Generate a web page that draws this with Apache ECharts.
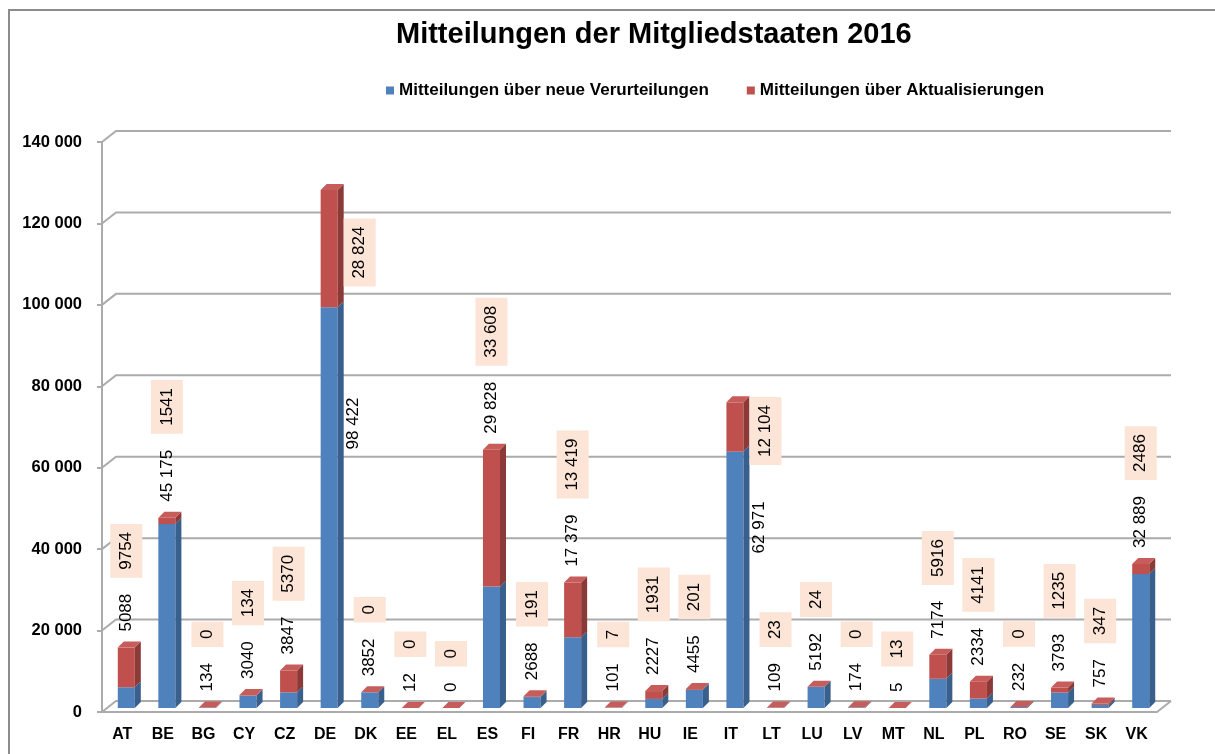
<!DOCTYPE html>
<html>
<head>
<meta charset="utf-8">
<script src="https://cdn.jsdelivr.net/npm/echarts@6/dist/echarts.min.js"></script>
<style>
html, body { margin: 0; padding: 0; background: #fff; }
#chart { width: 1215px; height: 754px; }
</style>
</head>
<body>
<div id="chart"></div>
<script>
// Mitteilungen der Mitgliedstaaten 2016
const countries = ['AT', 'BE', 'BG', 'CY', 'CZ', 'DE', 'DK', 'EE', 'EL', 'ES', 'FI', 'FR', 'HR',
  'HU', 'IE', 'IT', 'LT', 'LU', 'LV', 'MT', 'NL', 'PL', 'RO', 'SE', 'SK', 'VK'];
const newConvictions = [5088, 45175, 134, 3040, 3847, 98422, 3852, 12, 0, 29828, 2688, 17379, 101,
  2227, 4455, 62971, 109, 5192, 174, 5, 7174, 2334, 232, 3793, 757, 32889];
const updates = [9754, 1541, 0, 134, 5370, 28824, 0, 0, 0, 33608, 191, 13419, 7,
  1931, 201, 12104, 23, 24, 0, 13, 5916, 4141, 0, 1235, 347, 2486];
const yTicks = [0, 20000, 40000, 60000, 80000, 100000, 120000, 140000];

const FONT = '"Liberation Sans", Arial, sans-serif';
const LABEL_SIZE = 17;
const WALL_DEPTH = [14, -11];  // back wall offset from front plane
const BAR_SHIFT = [4, -4];     // bars sit a little behind the front plane
const BAR_DEPTH = [6, -6];
const BAR_RATIO = 0.42;
const LINE_COLOR = '#ababab';

const blue = { front: '#4f81bd', side: '#395f8d', top: '#6b93c6' };
const red = { front: '#c0504d', side: '#8c3a38', top: '#c65d5a' };

function fmt(v) {
  return v >= 10000 ? String(v).replace(/\B(?=(\d{3})+(?!\d))/g, ' ') : String(v);
}

const measureCtx = document.createElement('canvas').getContext('2d');
function textLen(s) {
  measureCtx.font = LABEL_SIZE + 'px ' + FONT;
  return measureCtx.measureText(s).width;
}

// back wall grid lines, left wall diagonals, floor edge
function wallItem(params, api) {
  const v = api.value(1);
  const cs = params.coordSys;
  const y = api.coord([0, v])[1];
  const l = cs.x;
  const r = cs.x + cs.width;
  const [dx, dy] = WALL_DEPTH;
  const children = [{
    type: 'polyline',
    shape: { points: [[l, y], [l + dx, y + dy], [r + dx, y + dy]] },
    style: { stroke: LINE_COLOR, lineWidth: 2, fill: null }
  }];
  if (v === 0) {
    children.push({
      type: 'line',
      shape: { x1: r, y1: y, x2: r + dx, y2: y + dy },
      style: { stroke: LINE_COLOR, lineWidth: 2 }
    });
  }
  return { type: 'group', children };
}

function barItem(colors, withTop) {
  return function (params, api) {
    const i = api.value(0);
    const base = api.value(1);
    const val = api.value(2);
    const p0 = api.coord([i, base]);
    const p1 = api.coord([i, base + val]);
    const w = api.size([1, 0])[0] * BAR_RATIO;
    const x0 = p0[0] + BAR_SHIFT[0] - w / 2;
    const x1 = x0 + w;
    const yb = p0[1] + BAR_SHIFT[1];
    const yt = p1[1] + BAR_SHIFT[1];
    const [dx, dy] = BAR_DEPTH;
    const children = [
      {
        type: 'rect',
        shape: { x: x0, y: yt, width: w, height: yb - yt },
        style: { fill: colors.front }
      },
      {
        type: 'polygon',
        shape: { points: [[x1, yb], [x1, yt], [x1 + dx, yt + dy], [x1 + dx, yb + dy]] },
        style: { fill: colors.side }
      }
    ];
    if (withTop) {
      children.push({
        type: 'polygon',
        shape: { points: [[x0, yt], [x1, yt], [x1 + dx, yt + dy], [x0 + dx, yt + dy]] },
        style: { fill: colors.top }
      });
    }
    return { type: 'group', children };
  };
}

function labelItem(params, api) {
  const i = api.value(0);
  const b = api.value(1);
  const r = api.value(2);
  const total = b + r;
  const w = api.size([1, 0])[0] * BAR_RATIO;
  const cx = api.coord([i, 0])[0] + BAR_SHIFT[0];
  const y0 = api.coord([i, 0])[1];
  const yB = api.coord([i, b])[1];
  const yTop = api.coord([i, total])[1];
  const bt = fmt(b);
  const rt = fmt(r);
  const bl = textLen(bt);
  const rl = textLen(rt);
  let bPos, rPos;
  if (total > 70000) {
    // tall bars: labels beside the bar
    const sx = cx + w / 2 + 16;
    bPos = [sx, yB + (y0 - yB) * 0.28];
    rPos = [sx + 6, (yTop + yB) / 2];
  } else {
    const by = yTop - 20 - bl / 2;
    bPos = [cx, by];
    rPos = [cx, by - bl / 2 - 16 - 8 - rl / 2];
  }
  const txt = (pos, text, bg) => ({
    type: 'text',
    x: pos[0],
    y: pos[1],
    rotation: Math.PI / 2,
    style: {
      text,
      font: LABEL_SIZE + 'px ' + FONT,
      fill: '#000',
      align: 'center',
      verticalAlign: 'middle',
      lineHeight: 20,
      backgroundColor: bg || null,
      padding: bg ? [6, 8] : 0
    }
  });
  return {
    type: 'group',
    children: [txt(bPos, bt), txt(rPos, rt, '#fce4d6')]
  };
}

const blueData = countries.map((c, i) => [i, 0, newConvictions[i]]);
const redData = countries.map((c, i) => [i, newConvictions[i], updates[i]]);
const labelData = countries.map((c, i) => [i, newConvictions[i], updates[i]]);
const wallData = yTicks.map(v => [0, v]);

const chart = echarts.init(document.getElementById('chart'));
chart.setOption({
  animation: false,
  backgroundColor: '#fff',
  textStyle: { fontFamily: FONT },
  graphic: [{
    type: 'rect',
    shape: { x: 9, y: 10, width: 1300, height: 800 },
    style: { fill: null, stroke: '#8c8c8c', lineWidth: 2 },
    silent: true
  }],
  title: {
    text: 'Mitteilungen der Mitgliedstaaten 2016',
    left: 391,
    top: 15,
    textStyle: { fontFamily: FONT, fontSize: 29, fontWeight: 'bold', color: '#000' }
  },
  legend: {
    left: 381,
    top: 77,
    icon: 'rect',
    itemWidth: 8,
    itemHeight: 8,
    itemGap: 38,
    textStyle: { fontFamily: FONT, fontSize: 17, fontWeight: 'bold', color: '#000' },
    data: ['Mitteilungen über neue Verurteilungen', 'Mitteilungen über Aktualisierungen']
  },
  grid: { left: 102, right: 58, top: 142, bottom: 42 },
  xAxis: {
    type: 'category',
    data: countries,
    axisLine: { lineStyle: { color: LINE_COLOR, width: 2 } },
    axisTick: { length: 5, lineStyle: { color: LINE_COLOR, width: 2 } },
    axisLabel: { fontFamily: FONT, fontSize: 16, fontWeight: 'bold', color: '#000', margin: 15 }
  },
  yAxis: {
    type: 'value',
    min: 0,
    max: 140000,
    interval: 20000,
    axisLine: { show: true, lineStyle: { color: LINE_COLOR, width: 2 } },
    axisTick: { show: true, length: 5, lineStyle: { color: LINE_COLOR, width: 2 } },
    splitLine: { show: false },
    axisLabel: {
      fontFamily: FONT,
      fontSize: 16.5,
      fontWeight: 'bold',
      color: '#000',
      margin: 20,
      formatter: v => fmt(v)
    }
  },
  series: [
    {
      name: 'wall',
      type: 'custom',
      renderItem: wallItem,
      data: wallData,
      encode: { x: 0, y: 1 },
      clip: false,
      silent: true,
      z: 1
    },
    {
      name: 'Mitteilungen über neue Verurteilungen',
      type: 'custom',
      renderItem: barItem(blue, false),
      data: blueData,
      encode: { x: 0, y: 2 },
      itemStyle: { color: blue.front },
      clip: false,
      z: 2
    },
    {
      name: 'Mitteilungen über Aktualisierungen',
      type: 'custom',
      renderItem: barItem(red, true),
      data: redData,
      encode: { x: 0, y: 2 },
      itemStyle: { color: red.front },
      clip: false,
      z: 3
    },
    {
      name: 'labels',
      type: 'custom',
      renderItem: labelItem,
      data: labelData,
      encode: { x: 0, y: 1 },
      clip: false,
      silent: true,
      z: 4
    }
  ]
});
</script>
</body>
</html>
